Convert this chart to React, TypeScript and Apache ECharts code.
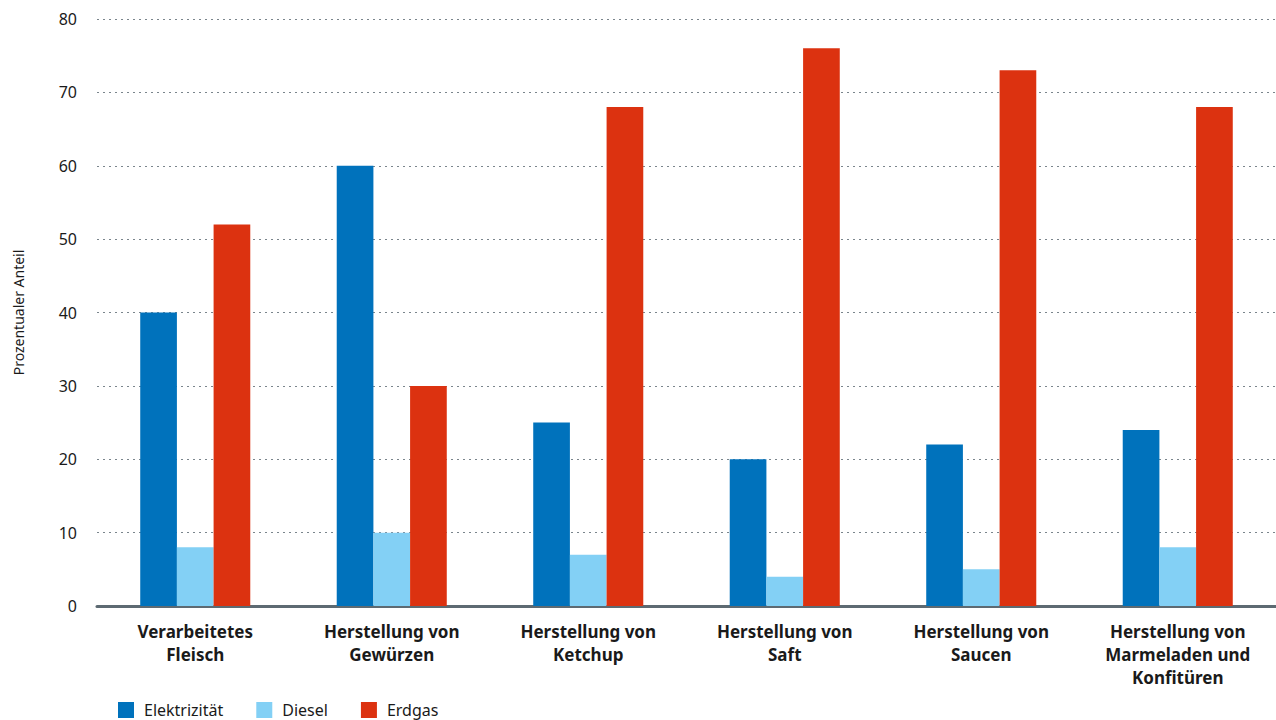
import React, { useEffect, useRef } from "react";
import * as echarts from "echarts";

const categories = [
  "Verarbeitetes\nFleisch",
  "Herstellung von\nGewürzen",
  "Herstellung von\nKetchup",
  "Herstellung von\nSaft",
  "Herstellung von\nSaucen",
  "Herstellung von\nMarmeladen und\nKonfitüren",
];
const elektrizitaet = [40, 60, 25, 20, 22, 24];
const diesel = [8, 10, 7, 4, 5, 8];
const erdgas = [52, 30, 68, 76, 73, 68];
const seriesNames = ["Elektrizität", "Diesel", "Erdgas"];
const colors = ["#0072bc", "#83d0f5", "#dc3210"];

const FONT = "'Noto Sans', sans-serif";

export default function App() {
  const ref = useRef<HTMLDivElement>(null);
  useEffect(() => {
    if (!ref.current) return;
    const chart = echarts.init(ref.current, undefined, { renderer: "svg" });
    const data = [elektrizitaet, diesel, erdgas];
    chart.setOption({
      animation: false,
      textStyle: { fontFamily: FONT },
      legend: {
        left: 118,
        top: 702,
        padding: 0,
        itemWidth: 16,
        itemHeight: 16,
        itemGap: 33,
        icon: "rect",
        textStyle: { fontSize: 16, color: "#1a1a1a", fontFamily: FONT, padding: [0, 0, 0, 5] },
        data: seriesNames,
      },
      grid: { left: 97, right: 0, top: 19, bottom: 114, containLabel: false },
      xAxis: {
        type: "category",
        data: categories,
        axisLine: { lineStyle: { color: "#5d6a72", width: 3 } },
        axisTick: { show: false },
        axisLabel: {
          interval: 0,
          fontSize: 17,
          fontWeight: "bold",
          color: "#1a1a1a",
          lineHeight: 23,
          margin: 14,
          fontFamily: FONT,
        },
      },
      yAxis: {
        type: "value",
        min: 0,
        max: 80,
        interval: 10,
        name: "Prozentualer Anteil",
        nameLocation: "middle",
        nameGap: 72,
        nameTextStyle: { fontSize: 14, color: "#1a1a1a", fontFamily: FONT },
        axisLine: { show: false },
        axisTick: { show: false },
        axisLabel: { fontSize: 16, color: "#1a1a1a", margin: 20, fontFamily: FONT },
        splitLine: { lineStyle: { type: [2, 4], color: "#7a858c", width: 1 } },
      },
      series: data.map((d, i) => ({
        name: seriesNames[i],
        type: "bar",
        data: d,
        barGap: "0%",
        barCategoryGap: "44%",
        itemStyle: { color: colors[i] },
      })),
    });
    return () => chart.dispose();
  }, []);
  return (
    <div
      ref={ref}
      style={{ position: "fixed", left: 0, top: 0, width: 1276, height: 720, background: "#fff" }}
    />
  );
}
